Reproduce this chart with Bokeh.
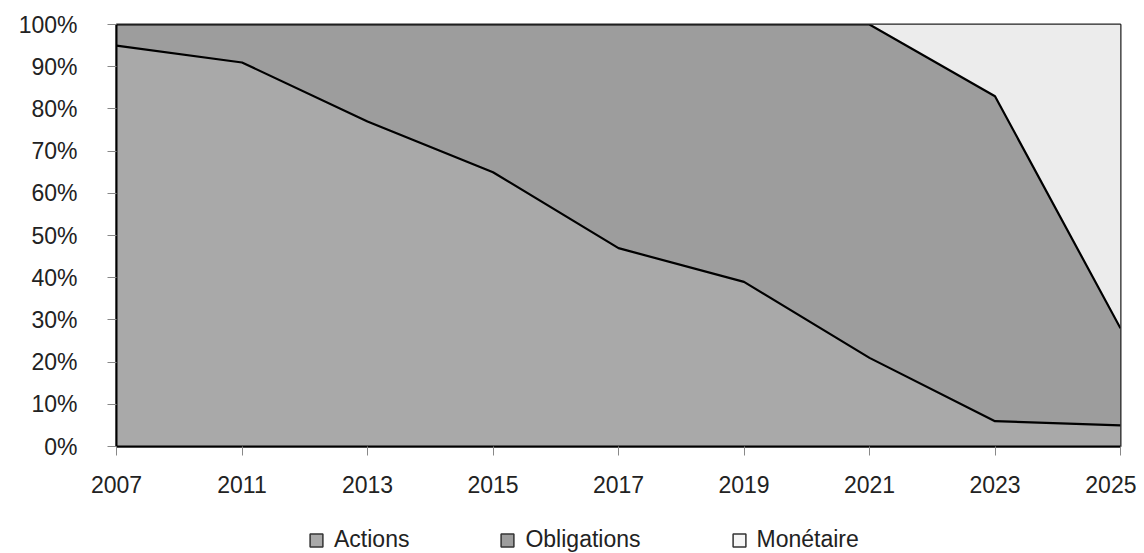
from bokeh.plotting import figure
from bokeh.layouts import column
from bokeh.models import ColumnDataSource, Range1d, FixedTicker, Legend, LegendItem
from bokeh.embed import file_html
from bokeh.resources import INLINE

years = ["2007", "2011", "2013", "2015", "2017", "2019", "2021", "2023", "2025"]
actions = [95, 91, 77, 65, 47, 39, 21, 6, 5]
obligations = [5, 9, 23, 35, 53, 61, 79, 77, 23]
monetaire = [0, 0, 0, 0, 0, 0, 0, 17, 72]
series_names = ["Actions", "Obligations", "Monétaire"]
y_ticks = [0, 10, 20, 30, 40, 50, 60, 70, 80, 90, 100]

FONT = "Liberation Sans"
C_ACT = "#a9a9a9"
C_OBL = "#9d9d9d"
C_MON = "#ececec"

xs = list(range(len(years)))
zero = [0] * len(years)
top1 = list(actions)
top2 = [a + o for a, o in zip(actions, obligations)]
top3 = [b + m for b, m in zip(top2, monetaire)]
src = ColumnDataSource(dict(x=xs, zero=zero, top1=top1, top2=top2, top3=top3))

p = figure(width=1136, height=500, output_backend="svg", toolbar_location=None,
           x_range=Range1d(0, len(years) - 1), y_range=Range1d(0, 100),
           min_border_left=116, min_border_right=16, min_border_top=24,
           min_border_bottom=54)
p.background_fill_color = "white"
p.border_fill_color = "white"
p.xgrid.visible = False
p.ygrid.visible = False
p.outline_line_color = "#222222"
p.outline_line_width = 2

p.varea(x="x", y1="zero", y2="top1", fill_color=C_ACT, source=src)
p.varea(x="x", y1="top1", y2="top2", fill_color=C_OBL, source=src)
p.varea(x="x", y1="top2", y2="top3", fill_color=C_MON, source=src)
p.line(x="x", y="top1", source=src, line_color="black", line_width=2.2)
p.line(x="x", y="top2", source=src, line_color="black", line_width=2.2)

xa = p.xaxis[0]
xa.ticker = FixedTicker(ticks=xs)
xa.major_label_overrides = {i: y for i, y in enumerate(years)}
xa.minor_tick_line_color = None
xa.major_tick_in = 0
xa.major_tick_out = 9
xa.major_tick_line_color = "#888888"
xa.axis_line_color = "black"
xa.axis_line_width = 2
xa.major_label_standoff = 20
xa.major_label_text_font = FONT
xa.major_label_text_font_size = "23px"
xa.major_label_text_color = "#222222"

ya = p.yaxis[0]
ya.ticker = FixedTicker(ticks=y_ticks)
ya.major_label_overrides = {t: f"{t}%" for t in y_ticks}
ya.minor_tick_line_color = None
ya.major_tick_in = 0
ya.major_tick_out = 9
ya.major_tick_line_color = "#888888"
ya.axis_line_color = "black"
ya.axis_line_width = 2
ya.major_label_standoff = 30
ya.major_label_text_font = FONT
ya.major_label_text_font_size = "23px"
ya.major_label_text_color = "#222222"

# legend strip below the chart (swatches are quads kept outside the visible range)
lf = figure(width=1136, height=53, output_backend="svg", toolbar_location=None,
            x_axis_type=None, y_axis_type=None,
            x_range=Range1d(0, 1), y_range=Range1d(0, 1),
            min_border_left=116, min_border_right=16, min_border_top=0, min_border_bottom=0)
lf.outline_line_color = None
lf.xgrid.visible = False
lf.ygrid.visible = False
sw = []
for c in [C_ACT, C_OBL, "#f6f6f6"]:
    sw.append(lf.quad(left=[5], right=[6], top=[6], bottom=[5], fill_color=c,
                      line_color="#333333", line_width=1.5))
legend = Legend(items=[LegendItem(label=n, renderers=[r]) for n, r in zip(series_names, sw)],
                orientation="horizontal", location=(192, 0),
                glyph_width=16, glyph_height=16, label_standoff=10, spacing=90,
                label_text_font=FONT, label_text_font_size="23px",
                label_text_color="#222222", border_line_color=None,
                background_fill_alpha=0, padding=0, margin=0)
lf.add_layout(legend, "center")

layout = column(p, lf, spacing=0)
open("out.html", "w", encoding="utf-8").write(file_html(layout, INLINE))
